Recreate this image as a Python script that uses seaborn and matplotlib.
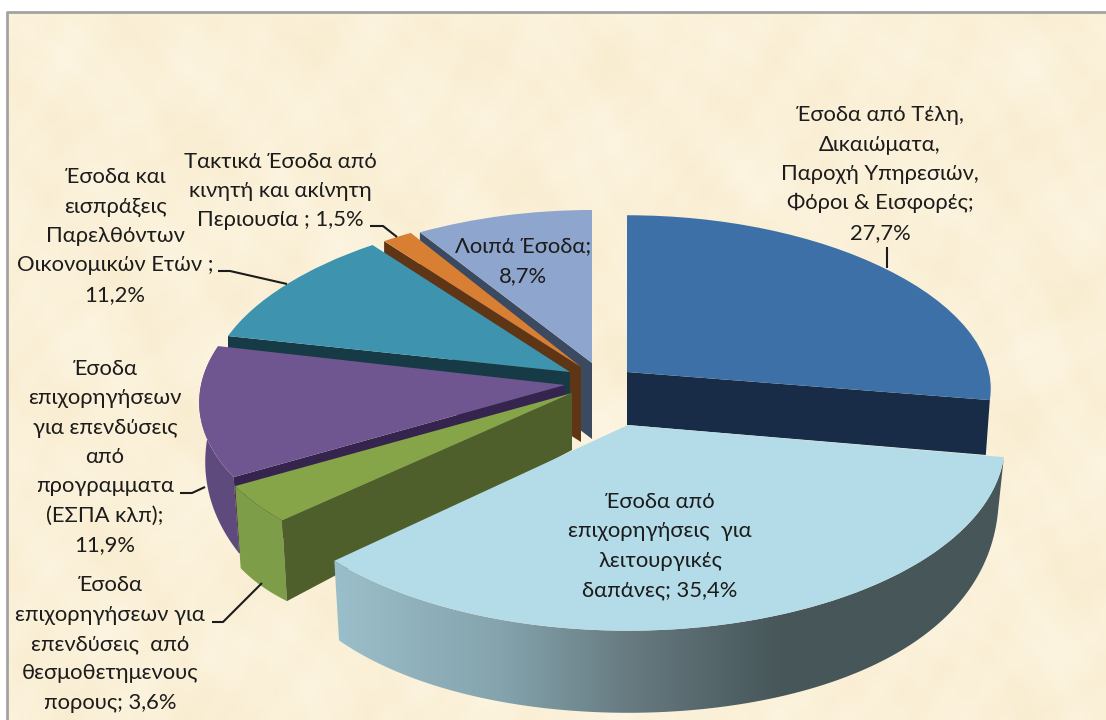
import numpy as np
import matplotlib
matplotlib.use("Agg")
import matplotlib.pyplot as plt
from matplotlib.colors import LinearSegmentedColormap
from matplotlib.patches import Polygon
from matplotlib.transforms import Transform
import seaborn as sns

# ── Data ───────────────────────────────────────────────────────────────────────
categories = [
    "Έσοδα από Τέλη,\nΔικαιώματα,\nΠαροχή Υπηρεσιών,\nΦόροι & Εισφορές;",
    "Έσοδα από\nεπιχορηγήσεις  για\nλειτουργικές\nδαπάνες;",
    "Έσοδα\nεπιχορηγήσεων για\nεπενδύσεις  από\nθεσμοθετημενους\nπορους;",
    "Έσοδα\nεπιχορηγήσεων\nγια επενδύσεις\nαπό\nπρογραμματα\n(ΕΣΠΑ κλπ);",
    "Έσοδα και\nεισπράξεις\nΠαρελθόντων\nΟικονομικών Ετών ;",
    "Τακτικά Έσοδα από\nκινητή και ακίνητη\nΠεριουσία ;",
    "Λοιπά Έσοδα;",
]
values = [27.7, 35.4, 3.6, 11.9, 11.2, 1.5, 8.7]
value_breaks = ["\n", " ", " ", "\n", "\n", " ", "\n"]

# ── Styles ─────────────────────────────────────────────────────────────────────
top_colors  = ["#3d70a7", "#b3dce8", "#86a549", "#6f5690", "#3e94ae", "#d97f33", "#8ea5ce"]
face_colors = ["#182c48", None, "#4f5f2b", "#35244d", "#173a47", "#5e3515", "#3b4a60"]
rim_colors  = [None, "gradient", "#7d9d48", "#5f4a7e", None, None, None]
face_side   = ["end", None, "start", "start", "start", "start", "start"]
draw_order  = [3, 6, 5, 4, 2, 1, 0]   # higher = in front

# top surface and bottom surface of each slice: cx, cy, rx, ry, kx, ky (pixels)
top_geom = [
    (627, 372, 362, 165, 0.10, 0.05),
    (628, 425, 375, 187, 0.10, 0.10),
    (572, 393, 370, 185, 0.10, 0.02),
    (565, 385, 364, 177, 0.10, 0.09),
    (570, 372, 359, 161, 0.10, 0.02),
    (581, 367, 358, 157, 0.10, 0.00),
    (592, 363, 362, 153, 0.10, 0.00),
]
bottom_geom = [
    (627, 425, 358, 176, 0.10, 0.05),
    (628, 468, 369, 272, 0.10, -0.10),
    (572, 450, 364, 278, 0.10, -0.295),
    (565, 440, 358, 222, 0.10, 0.05),
    (570, 427, 359, 161, 0.10, 0.02),
    (581, 442, 358, 157, 0.10, 0.00),
    (592, 439, 362, 153, 0.10, 0.00),
]

# label centre (x, y) in pixels
label_pos = [(880, 174), (660, 546), (110, 644), (105, 457), (115, 236), (280, 191), (523, 261)]
line_pitch = 29.3
leaders = [
    [(887, 247), (887, 268)],
    [(212, 622), (223, 622), (262, 583)],
    [(180, 493), (192, 493), (205, 487)],
    [(218, 271), (230, 271), (287, 284)],
    [(370, 226), (383, 226), (397, 237)],
]


class TiltTransform(Transform):
    """Unit-circle pie coordinates -> slanted, slightly perspective ellipse."""
    input_dims = output_dims = 2

    def __init__(self, cx, cy, rx, ry, kx, ky):
        super().__init__()
        self.params = (cx, cy, rx, ry, kx, ky)

    def transform_non_affine(self, values):
        cx, cy, rx, ry, kx, ky = self.params
        pts = np.asarray(values, dtype=float)
        u, v = pts[:, 0], -pts[:, 1]
        return np.column_stack([cx + rx * u * (1 + kx * v), cy + ry * v * (1 + ky * v)])


def unit_arc(theta1, theta2, n=120):
    a = np.radians(np.linspace(theta1, theta2, n))
    return np.column_stack([np.cos(a), np.sin(a)])


sns.set_theme(style="white")
plt.rcParams["font.family"] = ["Lato", "Open Sans", "DejaVu Sans"]

fig = plt.figure(figsize=(11.06, 7.2), dpi=100, facecolor="white")
ax = fig.add_axes([0, 0, 1, 1])

# ── Parchment background ───────────────────────────────────────────────────────
yy, xx = np.mgrid[13:720:7, 7:1106:7]
mottle = (np.sin(xx / 61 + yy / 97) * np.cos(xx / 43 - yy / 29 + 0.7)
          + np.sin(xx / 19 + 1.3 * np.sin(yy / 53)) * np.cos(yy / 23 + 1.7 * np.sin(xx / 67))
          + 0.7 * np.sin(xx / 7.3 + 2 * np.cos(yy / 31)) * np.sin(yy / 9.1 + 2 * np.sin(xx / 37)))
paper = LinearSegmentedColormap.from_list("paper", ["#f9edcf", "#fbf1d9", "#fdf5e3"])
ax.imshow(mottle, cmap=paper, extent=(7, 1106, 720, 13), aspect="auto", zorder=0,
          interpolation="bilinear")
ax.plot([7, 7, 1106], [720, 12, 12], color="#a3a3a3", lw=2, zorder=0.5)

# ── Pie ────────────────────────────────────────────────────────────────────────
wedges, _ = ax.pie(values, colors=top_colors, startangle=90, counterclock=False,
                   wedgeprops=dict(linewidth=0))

side_cmap = LinearSegmentedColormap.from_list(
    "side", [(0, "#9bbfca"), (0.25, "#84a3ad"), (0.46, "#64777c"), (0.67, "#465659"), (1, "#465659")])

for i, w in enumerate(wedges):
    base = 2 + draw_order[i]
    top = TiltTransform(*top_geom[i])
    bottom = TiltTransform(*bottom_geom[i])

    w.set_transform(top + ax.transData)
    w.set_zorder(base + 0.2)

    # outer rim
    if rim_colors[i] is not None:
        arc = unit_arc(w.theta1, w.theta2)
        rim = np.vstack([top.transform_non_affine(arc),
                         bottom.transform_non_affine(arc)[::-1]])
        if rim_colors[i] == "gradient":
            poly = Polygon(rim, closed=True, transform=ax.transData, facecolor="none", lw=0)
            ax.add_patch(poly)
            im = ax.imshow(np.linspace(0, 1, 256)[None, :], cmap=side_cmap, aspect="auto",
                           extent=(rim[:, 0].min(), rim[:, 0].max(), rim[:, 1].max(), rim[:, 1].min()),
                           zorder=base)
            im.set_clip_path(poly)
        else:
            ax.fill(rim[:, 0], rim[:, 1], color=rim_colors[i], lw=0, zorder=base)

    # radial cut face
    if face_side[i] is not None:
        theta = w.theta2 if face_side[i] == "start" else w.theta1
        edge = np.array([[0.0, 0.0], unit_arc(theta, theta, 1)[0]])
        face = np.vstack([top.transform_non_affine(edge),
                          bottom.transform_non_affine(edge)[::-1]])
        ax.fill(face[:, 0], face[:, 1], color=face_colors[i], lw=0, zorder=base + 0.1)

# ── Labels (one text per line, the blocks interlock on the left) ───────────────
for name, val, brk, (lx, ly) in zip(categories, values, value_breaks, label_pos):
    lines = f"{name}{brk}{val:.1f}%".replace(".", ",").split("\n")
    for k, line in enumerate(lines):
        ax.text(lx, ly + (k - (len(lines) - 1) / 2) * line_pitch, line, ha="center", va="center",
                fontsize=15.8, color="#1c1c1c", zorder=20)

for pts in leaders:
    ax.plot(*zip(*pts), color="#1c1c1c", lw=1.5, zorder=19, solid_capstyle="butt")

ax.set_aspect("auto")
ax.set_xlim(0, 1106)
ax.set_ylim(720, 0)
ax.axis("off")

fig.savefig("out.png", dpi=100, facecolor="white")
